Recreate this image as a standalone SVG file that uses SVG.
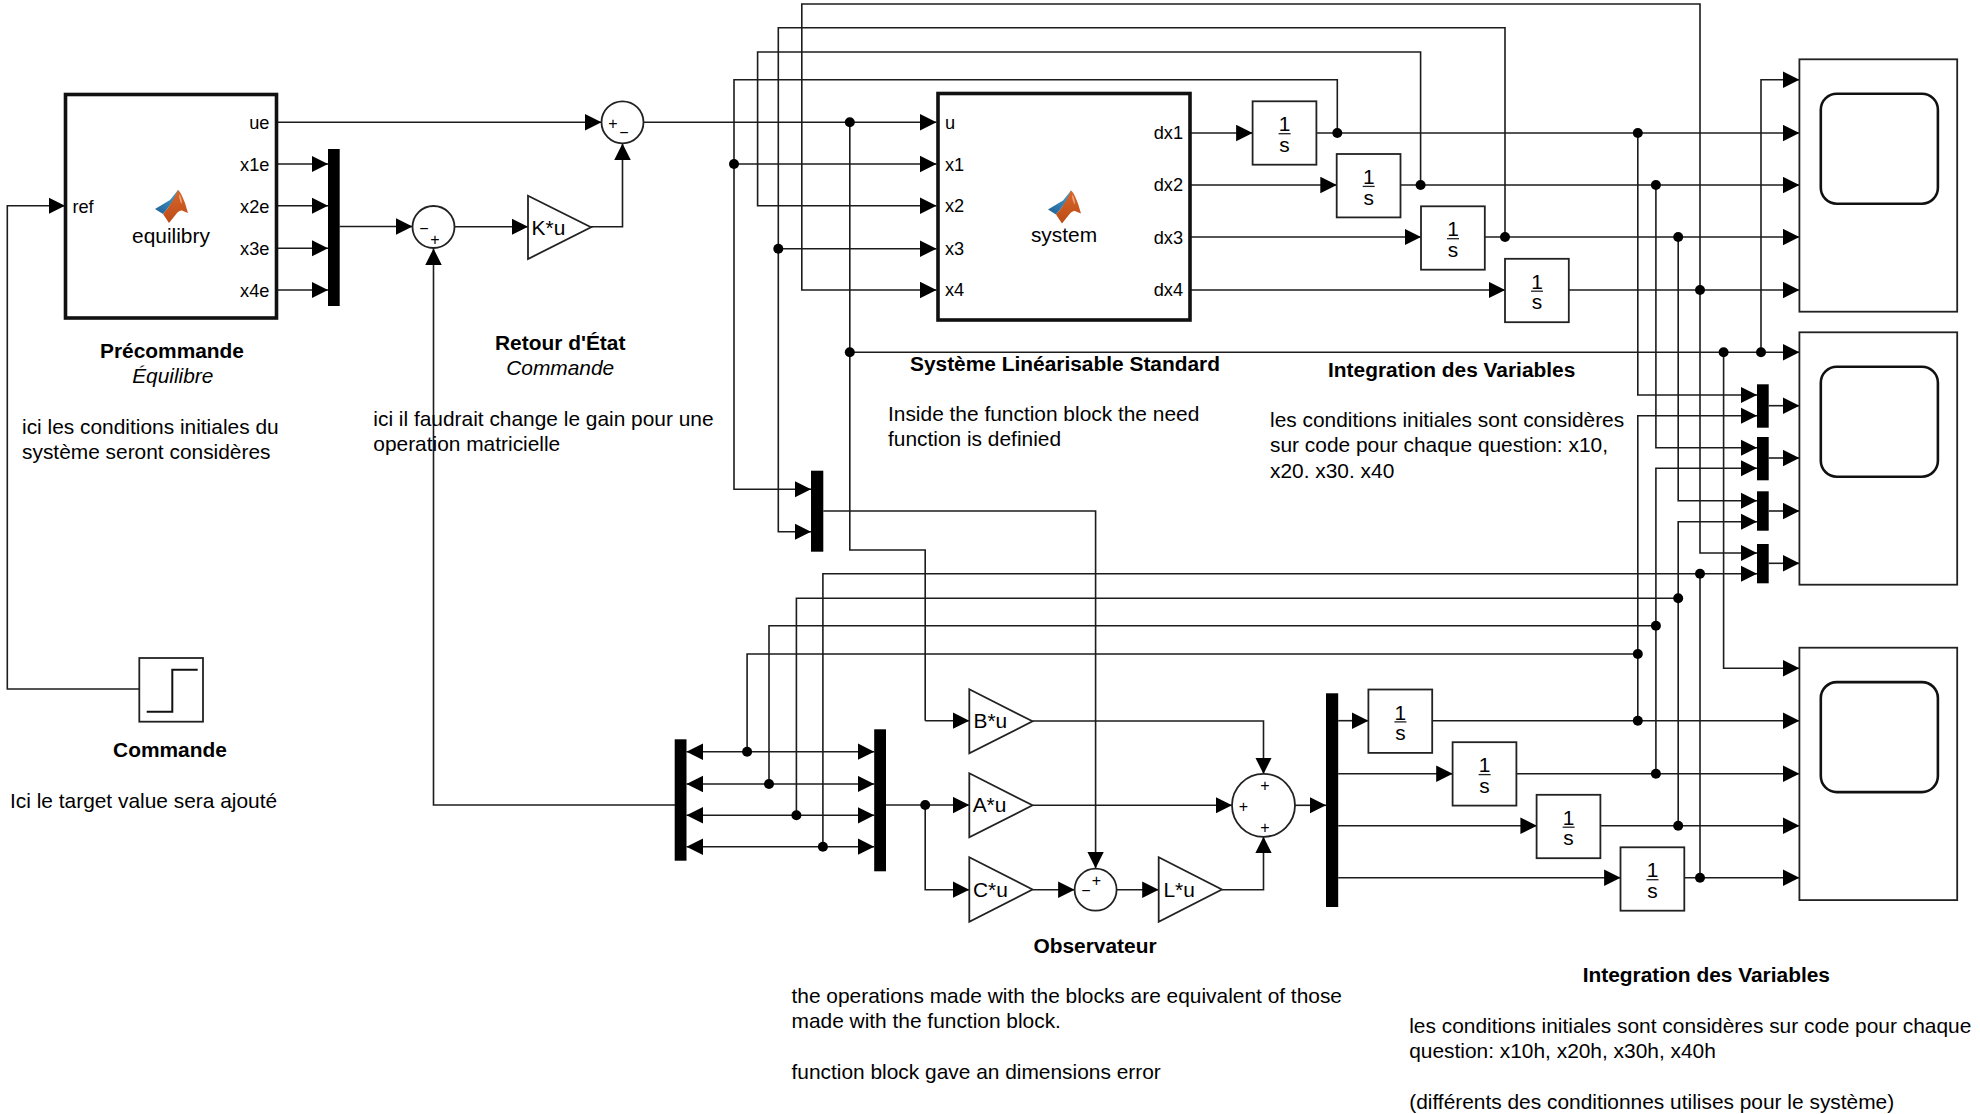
<svg xmlns="http://www.w3.org/2000/svg" xmlns:xlink="http://www.w3.org/1999/xlink" width="1980" height="1114" viewBox="0 0 1980 1114">
<style>
text{font-family:"Liberation Sans",Arial,sans-serif;font-size:20.9px;fill:#000}
.b{font-weight:bold}.i{font-style:italic}.m{text-anchor:middle}.e{text-anchor:end}
.p{font-size:18.2px}.s{font-size:16px;text-anchor:middle}
.c path{fill:none;stroke:#1c1c1c;stroke-width:1.6;marker-end:url(#a)}
.c path.n{marker-end:none}
.c path.d{marker-start:url(#a)}
.c circle{fill:#000}
.box{fill:#fff;stroke:#222;stroke-width:1.8}
.thick{fill:#fff;stroke:#111;stroke-width:3.6}
.bar{fill:#000}
.sc{fill:none;stroke:#111;stroke-width:2.6}
.frac{stroke:#222;stroke-width:1.3}
</style>
<defs>
<marker id="a" markerUnits="userSpaceOnUse" markerWidth="17" markerHeight="17" refX="16.5" refY="8.25" orient="auto-start-reverse"><path d="M0,0L16.5,8.25L0,16.5z" fill="#000"/></marker>
<linearGradient id="bl" x1="0" y1="1" x2="1" y2="0"><stop offset="0" stop-color="#1f5f94"/><stop offset="1" stop-color="#4aa3d4"/></linearGradient>
<linearGradient id="or" x1="0" y1="0" x2="0" y2="1"><stop offset="0" stop-color="#d9682c"/><stop offset="1" stop-color="#bb4a16"/></linearGradient>
<g id="logo">
<path d="M0,19L10,13L15,10L19,5L23,0L24,2L18,11L13,18L8,24z" fill="url(#bl)"/>
<path d="M23,0C26,2 28,8 30,13L33,23L28,21C26,20 24,21 22,23L14,33L8,24L13,18L18,10z" fill="url(#or)"/>
<path d="M24,4C26,6 27,10 27,14C25,12 24,8 24,4z" fill="#eda582"/>
</g>
<g id="int">
<rect class="box" x="0" y="0" width="63.8" height="63.4"/>
<path class="frac" d="M26,32.4H38"/>
<text class="m" x="32" y="30">1</text>
<text class="m" x="32" y="50.5">s</text>
</g>
<g id="scope">
<rect class="box" x="1799.4" y="0" width="157.8" height="252.4"/>
<rect class="sc" x="1820.8" y="34.4" width="117.1" height="110" rx="16"/>
</g>
</defs>
<rect width="1980" height="1114" fill="#fff"/>

<g id="connectors" class="c">
<path d="M139.3,689H7.3V205.7H65"/>
<path d="M276.5,122.3H601.5"/>
<path d="M276.5,164H328"/>
<path d="M276.5,205.7H328"/>
<path d="M276.5,248.3H328"/>
<path d="M276.5,290H328"/>
<path d="M339.6,226.5H412.5"/>
<path d="M454.5,226.7H528"/>
<path d="M591,226.7H622.5V143.5"/>
<path d="M675,805H433.5V248.5"/>
<path d="M643.5,122.3H936.5"/>
<path class="n" d="M849.8,122.3V550H925.2V720.7"/>
<path d="M925.2,720.7H969.3"/>
<path d="M849.8,352.3H1799.4"/>
<path d="M1337.3,133V79.7H734V489.3H811"/>
<path d="M734,164H936.5"/>
<path d="M1420.6,185V52H757.6V205.7H936.5"/>
<path d="M1505,237V27.7H778.3V531.7H811"/>
<path d="M778.3,248.7H936.5"/>
<path d="M1700,290V4H801.8V290H936.5"/>
<path d="M1190.3,133H1252.6"/>
<path d="M1190.3,185H1336.8"/>
<path d="M1190.3,237H1421"/>
<path d="M1190.3,290H1505.2"/>
<path d="M1316.6,133H1799.4"/>
<path d="M1400.4,185H1799.4"/>
<path d="M1484.6,237H1799.4"/>
<path d="M1568.7,290H1799.4"/>
<path d="M1637.8,133V395H1757"/>
<path d="M1655.9,185V447.7H1757"/>
<path d="M1678.2,237V500.7H1757"/>
<path d="M1700,290V553H1757"/>
<path d="M1637.8,720.7V415.7H1757"/>
<path d="M1655.9,773.7V468.3H1757"/>
<path d="M1678.2,825.7V521.7H1757"/>
<path class="n" d="M1700,877.7V573.7"/>
<path class="n" d="M1637.8,654H747.1V751.7"/>
<path class="n" d="M1655.9,625.7H769V784"/>
<path class="n" d="M1678.2,598.3H796.4V815.3"/>
<path d="M822.9,846.7V573.7H1757"/>
<path d="M1768.7,405.7H1799.4"/>
<path d="M1768.7,458H1799.4"/>
<path d="M1768.7,511H1799.4"/>
<path d="M1768.7,563.3H1799.4"/>
<path d="M1723.6,352.3V668.3H1799.4"/>
<path d="M1761,352.3V79.7H1799.4"/>
<path d="M1432,720.7H1799.4"/>
<path d="M1516.2,773.7H1799.4"/>
<path d="M1600,825.7H1799.4"/>
<path d="M1684.2,877.7H1799.4"/>
<path d="M1338.2,720.7H1368.5"/>
<path d="M1338.2,773.7H1452.7"/>
<path d="M1338.2,825.7H1536.9"/>
<path d="M1338.2,877.7H1620.6"/>
<path class="d" d="M686.5,751.7H874.2"/>
<path class="d" d="M686.5,784H874.2"/>
<path class="d" d="M686.5,815.3H874.2"/>
<path class="d" d="M686.5,846.7H874.2"/>
<path d="M886,805H969.3"/>
<path d="M925.2,805V889.7H969.3"/>
<path d="M1032.5,721H1263.5V774"/>
<path d="M1032.5,805.3H1232"/>
<path d="M1032.5,889.7H1074.6"/>
<path d="M1116.6,889.7H1158.7"/>
<path d="M1221.9,889.7H1263.5V836.7"/>
<path d="M1295,805.3H1326"/>
<path d="M823.3,511H1095.6V868.3"/>
<circle cx="849.8" cy="122.3" r="5"/>
<circle cx="849.8" cy="352.3" r="5"/>
<circle cx="734" cy="164" r="5"/>
<circle cx="778.3" cy="248.7" r="5"/>
<circle cx="1337.3" cy="133" r="5"/>
<circle cx="1420.6" cy="185" r="5"/>
<circle cx="1505" cy="237" r="5"/>
<circle cx="1700" cy="290" r="5"/>
<circle cx="1637.8" cy="133" r="5"/>
<circle cx="1655.9" cy="185" r="5"/>
<circle cx="1678.2" cy="237" r="5"/>
<circle cx="1723.6" cy="352.3" r="5"/>
<circle cx="1761" cy="352.3" r="5"/>
<circle cx="1700" cy="573.7" r="5"/>
<circle cx="1678.2" cy="598.3" r="5"/>
<circle cx="1655.9" cy="625.7" r="5"/>
<circle cx="1637.8" cy="654" r="5"/>
<circle cx="1637.8" cy="720.7" r="5"/>
<circle cx="1655.9" cy="773.7" r="5"/>
<circle cx="1678.2" cy="825.7" r="5"/>
<circle cx="1700" cy="877.7" r="5"/>
<circle cx="747.1" cy="751.7" r="5"/>
<circle cx="769" cy="784" r="5"/>
<circle cx="796.4" cy="815.3" r="5"/>
<circle cx="822.9" cy="846.7" r="5"/>
<circle cx="925.2" cy="805" r="5"/>
</g>

<g id="step">
<rect class="box" x="139.3" y="658" width="63.7" height="63.7"/>
<path d="M146.7,711.7H172.3V669.7H197.7" fill="none" stroke="#111" stroke-width="2"/>
</g>
<g id="equilibry">
<rect class="thick" x="65.5" y="94.5" width="211" height="223.5"/>
<use xlink:href="#logo" href="#logo" x="155" y="190"/>
<text class="m" x="171" y="243">equilibry</text>
<text class="p" x="72.4" y="212.7">ref</text>
<text class="p e" x="269.4" y="129.3">ue</text>
<text class="p e" x="269.4" y="171">x1e</text>
<text class="p e" x="269.4" y="212.7">x2e</text>
<text class="p e" x="269.4" y="255">x3e</text>
<text class="p e" x="269.4" y="296.7">x4e</text>
</g>
<g id="mux-eq"><rect class="bar" x="328" y="149" width="11.7" height="157"/></g>
<g id="sum1">
<circle class="box" cx="433.5" cy="227" r="21"/>
<text class="s" x="424" y="233.5">−</text>
<text class="s" x="434.8" y="244.5">+</text>
</g>
<g id="gain-k">
<path class="box" d="M528,195.7L591,227.3L528,259z"/>
<text x="531.6" y="235">K*u</text>
</g>
<g id="sum2">
<circle class="box" cx="622.5" cy="122.3" r="21"/>
<text class="s" x="613" y="128.5">+</text>
<text class="s" x="624" y="137.5">−</text>
</g>
<g id="system">
<rect class="thick" x="938" y="93.5" width="252" height="226.5"/>
<use xlink:href="#logo" href="#logo" x="1048" y="190.5"/>
<text class="m" x="1064" y="242">system</text>
<text class="p" x="945" y="128.7">u</text>
<text class="p" x="945" y="170.7">x1</text>
<text class="p" x="945" y="212.3">x2</text>
<text class="p" x="945" y="254.7">x3</text>
<text class="p" x="945" y="296">x4</text>
<text class="p e" x="1183" y="138.7">dx1</text>
<text class="p e" x="1183" y="190.7">dx2</text>
<text class="p e" x="1183" y="244">dx3</text>
<text class="p e" x="1183" y="296">dx4</text>
</g>
<g id="int1"><use xlink:href="#int" href="#int" x="1252.6" y="101.3"/></g>
<g id="int2"><use xlink:href="#int" href="#int" x="1336.7" y="154"/></g>
<g id="int3"><use xlink:href="#int" href="#int" x="1421" y="206.3"/></g>
<g id="int4"><use xlink:href="#int" href="#int" x="1505" y="258.8"/></g>
<g id="int5"><use xlink:href="#int" href="#int" x="1368.4" y="689.5"/></g>
<g id="int6"><use xlink:href="#int" href="#int" x="1452.6" y="742.2"/></g>
<g id="int7"><use xlink:href="#int" href="#int" x="1536.6" y="794.8"/></g>
<g id="int8"><use xlink:href="#int" href="#int" x="1620.5" y="847.3"/></g>
<g id="scope1"><use xlink:href="#scope" href="#scope" y="59.3"/></g>
<g id="scope2"><use xlink:href="#scope" href="#scope" y="332.3"/></g>
<g id="scope3"><use xlink:href="#scope" href="#scope" y="647.7"/></g>
<g id="mux-s1"><rect class="bar" x="1757" y="384.3" width="11.7" height="43.4"/></g>
<g id="mux-s2"><rect class="bar" x="1757" y="437" width="11.7" height="43.3"/></g>
<g id="mux-s3"><rect class="bar" x="1757" y="491.3" width="11.7" height="39.4"/></g>
<g id="mux-s4"><rect class="bar" x="1757" y="544" width="11.7" height="39.3"/></g>
<g id="mux-obs"><rect class="bar" x="811" y="470.7" width="12.3" height="81"/></g>
<g id="demux-left"><rect class="bar" x="674.7" y="739.3" width="11.8" height="121.4"/></g>
<g id="mux-right"><rect class="bar" x="874.2" y="729.3" width="11.8" height="142"/></g>
<g id="mux-big"><rect class="bar" x="1326" y="693.3" width="12.2" height="213.7"/></g>
<g id="gain-b">
<path class="box" d="M969.3,689.3L1032.5,721.3L969.3,753.3z"/>
<text x="973.5" y="728">B*u</text>
</g>
<g id="gain-a">
<path class="box" d="M969.3,773.3L1032.5,805.3L969.3,837.3z"/>
<text x="972.7" y="812.3">A*u</text>
</g>
<g id="gain-c">
<path class="box" d="M969.3,857.3L1032.5,889.5L969.3,921.7z"/>
<text x="973" y="896.7">C*u</text>
</g>
<g id="gain-l">
<path class="box" d="M1158.7,857.3L1221.9,889.5L1158.7,921.7z"/>
<text x="1163.4" y="896.7">L*u</text>
</g>
<g id="sum3">
<circle class="box" cx="1095.6" cy="889.7" r="21"/>
<text class="s" x="1096.5" y="885.5">+</text>
<text class="s" x="1086" y="896.2">−</text>
</g>
<g id="sum4">
<circle class="box" cx="1263.5" cy="805.3" r="31.5"/>
<text class="s" x="1264.8" y="791.2">+</text>
<text class="s" x="1243.3" y="812.2">+</text>
<text class="s" x="1264.8" y="833.2">+</text>
</g>

<g id="labels">
<text class="b m" x="172" y="358">Précommande</text>
<text class="i m" x="172.8" y="383">Équilibre</text>
<text x="22" y="433.8">ici les conditions initiales du</text>
<text x="22" y="459.2">système seront considères</text>
<text class="b m" x="560.2" y="350">Retour d'État</text>
<text class="i m" x="560.2" y="374.8">Commande</text>
<text x="373.3" y="425.5">ici il faudrait change le gain pour une</text>
<text x="373.3" y="450.5">operation matricielle</text>
<text class="b m" x="170" y="757">Commande</text>
<text x="10" y="807.8">Ici le target value sera ajouté</text>
<text class="b m" x="1065" y="370.5">Système Linéarisable Standard</text>
<text x="888" y="420.8">Inside the function block the need</text>
<text x="888" y="446">function is definied</text>
<text class="b m" x="1451.7" y="377">Integration des Variables</text>
<text x="1270" y="427">les conditions initiales sont considères</text>
<text x="1270" y="452">sur code pour chaque question: x10,</text>
<text x="1270" y="477.5">x20. x30. x40</text>
<text class="b m" x="1095" y="952.8">Observateur</text>
<text x="791.5" y="1002.8">the operations made with the blocks are equivalent of those</text>
<text x="791.5" y="1028">made with the function block.</text>
<text x="791.5" y="1078.6">function block gave an dimensions error</text>
<text class="b m" x="1706.3" y="982">Integration des Variables</text>
<text x="1409.2" y="1032.6">les conditions initiales sont considères sur code pour chaque</text>
<text x="1409.2" y="1058">question: x10h, x20h, x30h, x40h</text>
<text x="1409.2" y="1108.5">(différents des conditionnes utilises pour le système)</text>
</g>
</svg>
